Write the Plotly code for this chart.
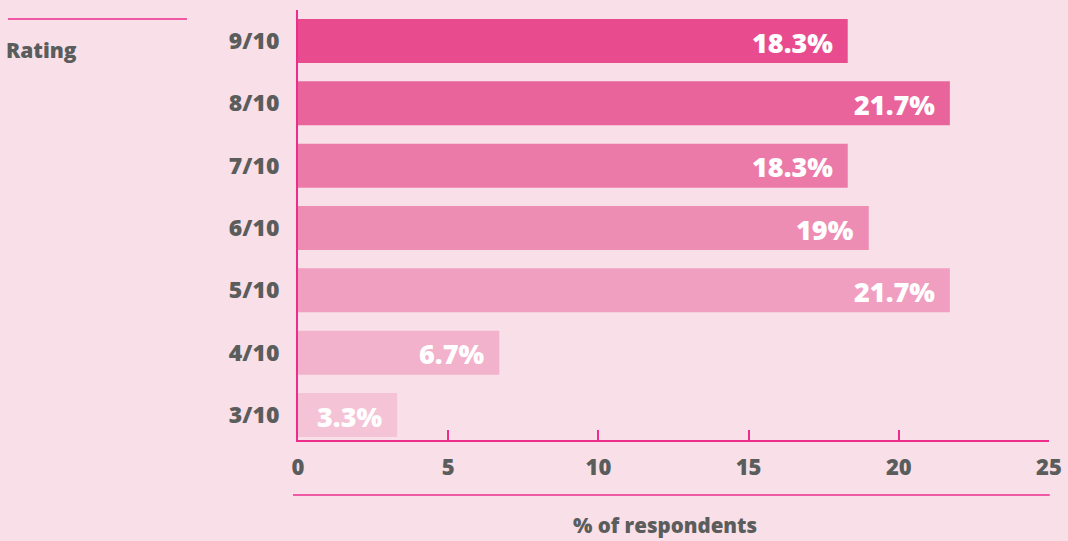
import plotly.graph_objects as go

ratings = ["3/10", "4/10", "5/10", "6/10", "7/10", "8/10", "9/10"]
values = [3.3, 6.7, 21.7, 19.0, 18.3, 21.7, 18.3]
labels = ["3.3%", "6.7%", "21.7%", "19%", "18.3%", "21.7%", "18.3%"]
colors = ["#f4c3d5", "#f2b2cb", "#f09fc0", "#ee8db4", "#ec7aa8", "#ea649c", "#e84c8f"]
x_ticks = [0, 5, 10, 15, 20, 25]

BG = "#f9dfe8"
LINE = "#ec2d8c"
GRAY = "#5a5d5c"
FONT = "Open Sans"

fig = go.Figure()
fig.add_trace(go.Bar(
    y=ratings, x=values, orientation="h",
    marker=dict(color=colors, line=dict(width=0)),
    hoverinfo="skip",
))

for r, v, t in zip(ratings, values, labels):
    fig.add_annotation(
        x=v, y=r, xref="x", yref="y", text=t, showarrow=False,
        xanchor="right", xshift=-13, yshift=-1,
        font=dict(family=FONT, size=27, color="white", weight=800),
    )

fig.update_layout(
    width=1068, height=541,
    paper_bgcolor=BG, plot_bgcolor=BG,
    margin=dict(l=298, r=19, t=10, b=101),
    bargap=0.294,
    showlegend=False,
    font=dict(family=FONT, color=GRAY),
    xaxis=dict(
        range=[0, 25], tickvals=x_ticks, ticktext=[str(v) for v in x_ticks],
        showgrid=False, zeroline=False, automargin=False,
        showline=True, linecolor=LINE, linewidth=2,
        ticks="inside", ticklen=10, tickcolor=LINE, tickwidth=2,
        tickfont=dict(family=FONT, size=22, color=GRAY, weight=800),
        ticklabelstandoff=7,
        fixedrange=True,
    ),
    yaxis=dict(
        range=[-0.401, 6.498],
        categoryorder="array", categoryarray=ratings,
        showgrid=False, zeroline=False, automargin=False,
        showline=True, linecolor=LINE, linewidth=2,
        ticks="", ticklabelstandoff=12,
        tickfont=dict(family=FONT, size=23, color=GRAY, weight=800),
        fixedrange=True,
    ),
    shapes=[
        dict(type="line", xref="paper", yref="paper",
             x0=-5 / 751, x1=1.001, y0=-55 / 430, y1=-55 / 430,
             line=dict(color=LINE, width=1.5)),
        dict(type="line", xref="paper", yref="paper",
             x0=-290 / 751, x1=-111 / 751, y0=421 / 430, y1=421 / 430,
             line=dict(color=LINE, width=1.5)),
    ],
)

fig.add_annotation(
    x=-294 / 751, y=(440 - 50) / 430, xref="paper", yref="paper",
    text="Rating", showarrow=False, xanchor="left", yanchor="middle",
    font=dict(family=FONT, size=21, color=GRAY, weight=800),
)
fig.add_annotation(
    x=(665 - 298) / 751, y=(440 - 525) / 430, xref="paper", yref="paper",
    text="% of respondents", showarrow=False, xanchor="center", yanchor="middle",
    font=dict(family=FONT, size=20.5, color=GRAY, weight=800),
)

fig.write_html(
    "out.html",
    config={"displayModeBar": False},
    post_script="document.body.style.margin='0';document.body.style.background='%s';" % BG,
)
